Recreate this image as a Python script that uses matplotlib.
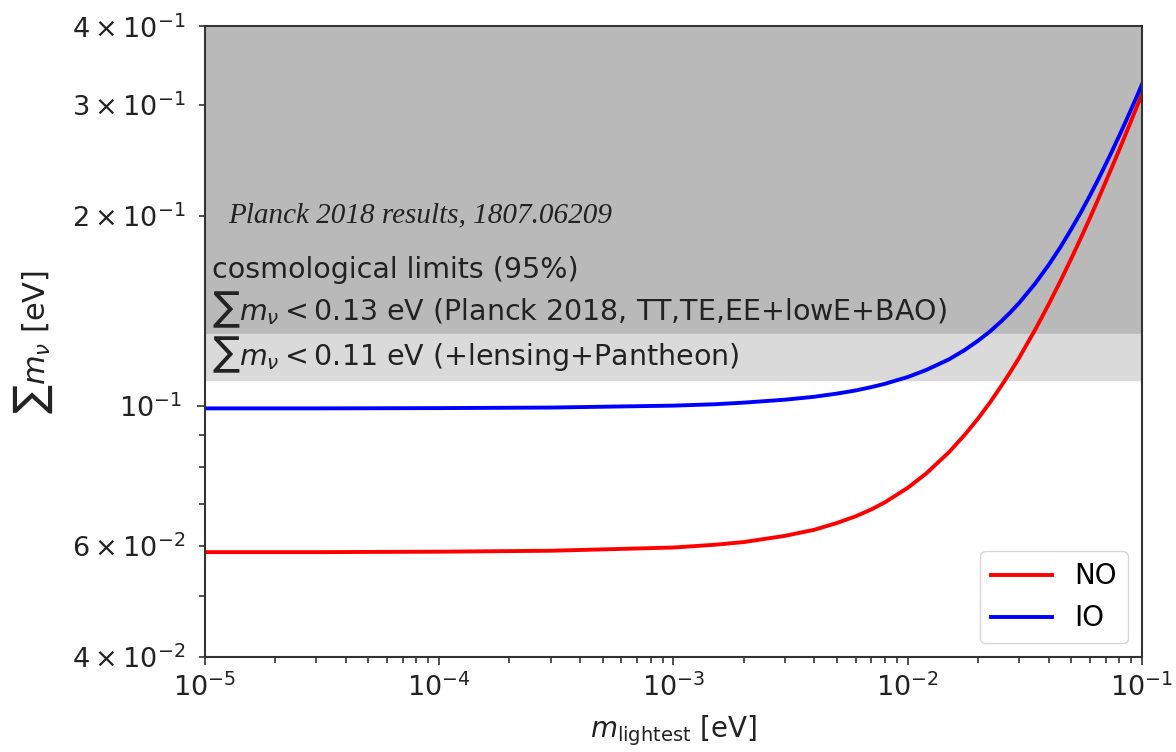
import matplotlib
matplotlib.use('Agg')
import matplotlib.pyplot as plt

# lightest neutrino mass [eV] and summed masses
m_lightest = [1e-5, 3e-5, 1e-4, 3e-4, 1e-3, 1.5e-3, 2e-3, 3e-3, 4e-3, 5e-3, 6e-3, 7e-3, 8e-3,
              1e-2, 1.2e-2, 1.5e-2, 1.75e-2, 2e-2, 2.25e-2, 2.5e-2, 2.75e-2, 3e-2, 3.5e-2,
              4e-2, 4.5e-2, 5e-2, 5.5e-2, 6e-2, 6.5e-2, 7e-2, 7.5e-2, 8e-2, 8.5e-2, 9e-2,
              9.5e-2, 1e-1]
sum_NO = [0.0587, 0.0587, 0.0588, 0.0590, 0.0597, 0.0603, 0.0609, 0.0623, 0.0637, 0.0653,
          0.0669, 0.0686, 0.0704, 0.0742, 0.0782, 0.0845, 0.0900, 0.0956, 0.1014, 0.1074,
          0.1134, 0.1195, 0.1321, 0.1450, 0.1581, 0.1715, 0.1850, 0.1987, 0.2126, 0.2266,
          0.2406, 0.2548, 0.2691, 0.2834, 0.2978, 0.3122]
sum_IO = [0.0992, 0.0992, 0.0993, 0.0995, 0.1002, 0.1007, 0.1013, 0.1024, 0.1035, 0.1047,
          0.1059, 0.1072, 0.1085, 0.1112, 0.1141, 0.1186, 0.1227, 0.1270, 0.1314, 0.1361,
          0.1409, 0.1459, 0.1564, 0.1674, 0.1789, 0.1909, 0.2031, 0.2157, 0.2285, 0.2416,
          0.2548, 0.2682, 0.2818, 0.2956, 0.3093, 0.3234]

limit_base = 0.13    # Planck TT,TE,EE+lowE+BAO
limit_lens = 0.11    # +lensing+Pantheon
y_top = 0.4

fig = plt.figure(figsize=(11.76, 7.52), dpi=100)
ax = fig.add_axes([0.174, 0.126, 0.797, 0.839])

ax.axhspan(limit_base, y_top, color='#b9b9b9', zorder=0)
ax.axhspan(limit_lens, limit_base, color='#dadada', zorder=0)

ax.plot(m_lightest, sum_NO, color='red', lw=2.8, label='NO')
ax.plot(m_lightest, sum_IO, color='blue', lw=2.8, label='IO')

ax.set_xscale('log')
ax.set_yscale('log')
ax.set_xlim(1e-5, 1e-1)
ax.set_ylim(0.04, y_top)

ax.tick_params(which='both', labelsize=19.5, width=1.2, color='#333333', labelcolor='#222222')
ax.tick_params(which='major', length=6)
ax.tick_params(which='minor', length=4)
ax.tick_params(axis='y', which='both', pad=10)
ax.tick_params(axis='x', which='both', pad=6)
for s in ax.spines.values():
    s.set_linewidth(1.5)
    s.set_color('#333333')

ax.set_xlabel(r'$m_{\rm lightest}$ [eV]', fontsize=20, color='#222222', labelpad=8)
ax.set_ylabel(r'$\sum m_\nu$ [eV]', fontsize=22, color='#222222', labelpad=12)

ax.text(0.025, 0.700, 'Planck 2018 results, 1807.06209', transform=ax.transAxes,
        family='Liberation Serif', style='italic', fontsize=21, va='center', color='#222222')
ax.text(0.008, 0.613, 'cosmological limits (95%)', transform=ax.transAxes,
        fontsize=20.5, va='center', color='#222222')
ax.text(0.008, 0.550, r'$\sum m_\nu < 0.13$ eV (Planck 2018, TT,TE,EE+lowE+BAO)',
        transform=ax.transAxes, fontsize=20.5, va='center', color='#222222')
ax.text(0.008, 0.479, r'$\sum m_\nu < 0.11$ eV (+lensing+Pantheon)',
        transform=ax.transAxes, fontsize=20.5, va='center', color='#222222')

ax.legend(loc='lower right', fontsize=20, handlelength=2.2)

fig.savefig('out.png', dpi=100)
